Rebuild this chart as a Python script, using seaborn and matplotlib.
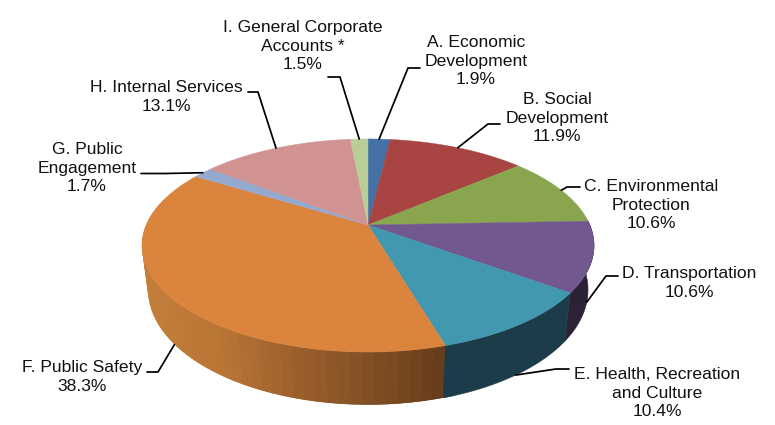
import numpy as np
import matplotlib
matplotlib.use("Agg")
import matplotlib.pyplot as plt
from matplotlib.collections import PolyCollection
from matplotlib import font_manager
import seaborn as sns

# Budget shares, clockwise from twelve o'clock
categories = [
    "A. Economic\nDevelopment",
    "B. Social\nDevelopment",
    "C. Environmental\nProtection",
    "D. Transportation",
    "E. Health, Recreation\nand Culture",
    "F. Public Safety",
    "G. Public\nEngagement",
    "H. Internal Services",
    "I. General Corporate\nAccounts *",
]
shares = [1.9, 11.9, 10.6, 10.6, 10.4, 38.3, 1.7, 13.1, 1.5]
top_colors = ["#4571A7", "#A84543", "#89A54E", "#71588F", "#4198AF",
              "#DB843D", "#93A9CF", "#D19392", "#B9CD96"]
wall_colors = {3: "#2C2238", 4: "#1B3C48"}
safety_wall_ramp = ["#C47E3C", "#B87434", "#9A5E2C", "#7E4D24", "#633A1A"]

# Label centres and leader elbows, in figure pixels
label_pos = [(476, 61), (557, 118), (651, 205), (689, 283), (657, 393),
             (82, 377), (87, 168), (166, 97), (303, 46)]
leader_start = [(420, 68), (500, 124), (580, 187), (618, 276), (569, 369),
                (147, 372), (141, 173.5), (248, 92), (328, 77)]
leader_elbow = [(408, 68), (488, 124), (567, 187), (606, 276), (556, 369),
                (158, 372), (165, 173.5), (258, 92), (340, 77)]

CX = 368
TOP = dict(r=221.8, a=102.6, c=0.1925, y0=225.0)
BOTTOM = dict(r=216.0, a=110.8, c=0.19, y0=268.0)


def project(theta, face):
    """Perspective view of a point on the unit circle, theta clockwise from north."""
    x, y = np.sin(theta), np.cos(theta)
    den = 1 + face["c"] * y
    return CX + face["r"] * x / den, face["y0"] - face["a"] * y / den


sns.set_theme(style="white")
installed = {f.name for f in font_manager.fontManager.ttflist}
narrow = "Liberation Sans Narrow" in installed
plt.rcParams["font.family"] = ["Liberation Sans Narrow" if narrow else "Liberation Sans", "DejaVu Sans"]
label_size = 15 if narrow else 12.6

fig = plt.figure(figsize=(7.75, 4.25), dpi=100)
ax = fig.add_axes([0, 0, 1, 1])
ax.set_xlim(0, 775)
ax.set_ylim(425, 0)
ax.axis("off")

edges = np.radians(np.concatenate([[0], np.cumsum(shares)]) * 3.6)
ramp = sns.blend_palette(safety_wall_ramp, n_colors=48)

# Side wall, drawn first so the top face covers its hidden part
for i in range(len(shares)):
    start, stop = edges[i], edges[i + 1]
    if i not in wall_colors and i != 5:
        continue
    if i == 5:
        steps = np.linspace(start, min(stop, np.radians(285)), 49)
        width = steps[1] - steps[0]
        quads, cols = [], []
        for t0, t1 in zip(steps[:-1], steps[1:]):
            # each band overlaps the previous one so no seams show
            tt = np.array([t0 - width, t1])
            xt, yt = project(tt, TOP)
            xb, yb = project(tt[::-1], BOTTOM)
            quads.append(np.column_stack([np.r_[xt, xb], np.r_[yt, yb]]))
            pos = np.clip((xb.mean() - 147) / (443 - 147), 0, 1)
            cols.append(ramp[int(pos * 47)])
        ax.add_collection(PolyCollection(quads, facecolors=cols, edgecolors="none",
                                         linewidths=0, zorder=1))
    else:
        tt = np.linspace(start, stop, 80)
        xt, yt = project(tt, TOP)
        xb, yb = project(tt[::-1], BOTTOM)
        ax.fill(np.r_[xt, xb], np.r_[yt, yb], color=wall_colors[i], lw=0.4, zorder=2)

# Top face wedges
apex_y = TOP["y0"]
for i, color in enumerate(top_colors):
    tt = np.linspace(edges[i], edges[i + 1], 120)
    xt, yt = project(tt, TOP)
    ax.fill(np.r_[CX, xt], np.r_[apex_y, yt], color=color, lw=0.3, zorder=3)

# Labels and leader lines; front slices anchor on the lower rim
for i, name in enumerate(categories):
    mid = (edges[i] + edges[i + 1]) / 2
    face = BOTTOM if np.cos(mid) < 0 else TOP
    ex, ey = project(mid, face)
    ax.plot([leader_start[i][0], leader_elbow[i][0], ex],
            [leader_start[i][1], leader_elbow[i][1], ey],
            color="black", lw=1.25, solid_joinstyle="miter", zorder=4)
    ax.text(*label_pos[i], f"{name}\n{shares[i]}%", ha="center", va="center",
            fontsize=label_size, color="#111111", linespacing=1.15 if narrow else 1.28, zorder=5)

fig.savefig("out.png", dpi=100, facecolor="white")
